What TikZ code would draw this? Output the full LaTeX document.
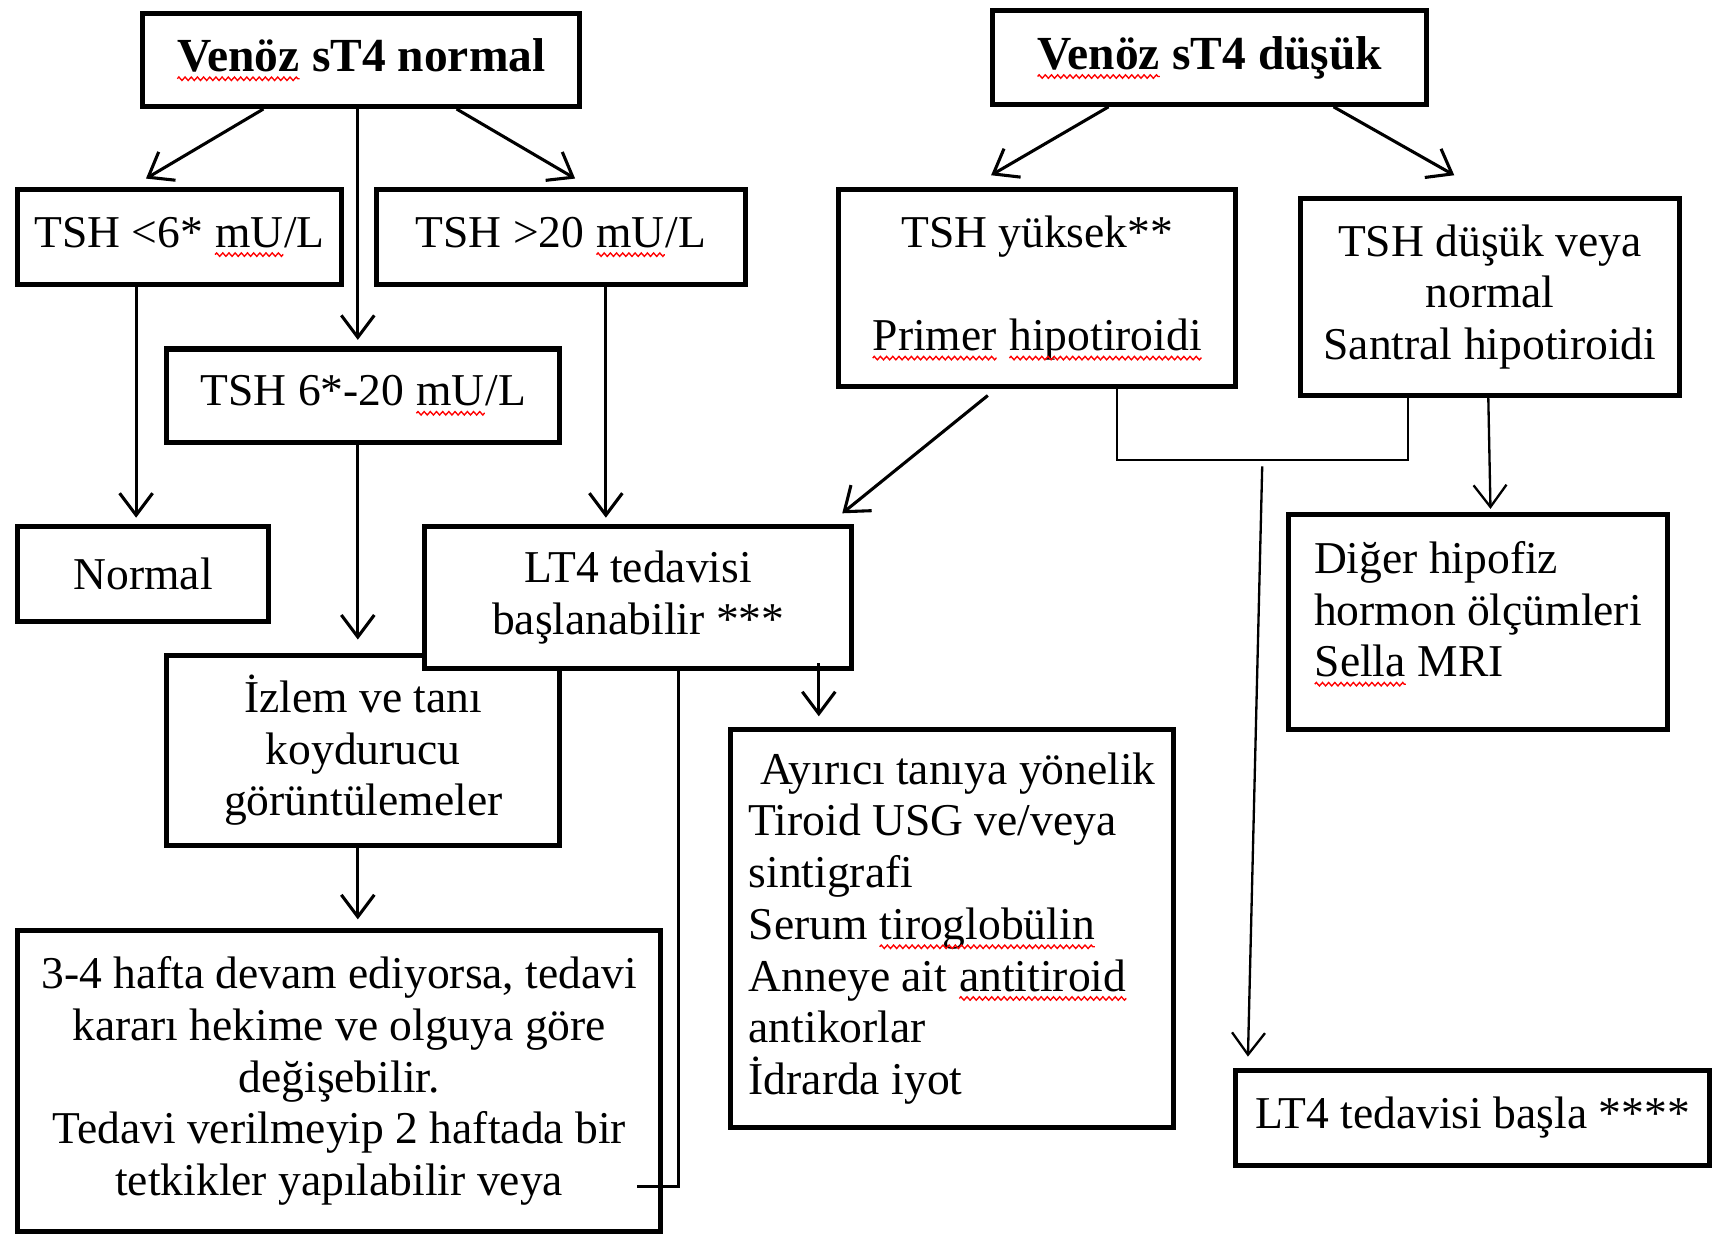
\documentclass[tikz,border=0pt]{standalone}
\usepackage{fontspec}
\setmainfont{Liberation Serif}
\usetikzlibrary{arrows.meta,calc,decorations.pathmorphing}
\newcommand\sqw[1]{\tikz[baseline=(w.base)]{\node[draw=none,fill=none,inner sep=0pt,outer sep=0pt,minimum width=0pt,minimum height=0pt,text width={},align=none,anchor=base](w){#1};\draw[red,line width=0.35pt,decorate,decoration={zigzag,amplitude=0.45pt,segment length=1.6pt}]([yshift=-1.9pt]w.base west)--([yshift=-1.9pt]w.base east);}}
\begin{document}
\begin{tikzpicture}[x=0.01cm,y=-0.01cm,
  box/.style={draw,line width=1.3pt,fill=white,inner sep=0pt,align=center,font=\fontsize{11.8}{13.4}\selectfont},
  ttl/.style={box,font=\fontsize{12.3}{15}\selectfont\bfseries},
  lbox/.style={box,align=left},
  conn/.style={line width=0.8pt},
  arr/.style={conn,-{Straight Barb[length=0.2cm,width=0.3cm]}},
  thinln/.style={line width=0.6pt}]
\useasboundingbox (0,0) rectangle (1568,1124);

\node[ttl, minimum width=3.98cm, minimum height=0.85cm] (A) at (329,54.5) {\sqw{Venöz} sT4 normal};
\node[ttl, minimum width=3.96cm, minimum height=0.85cm] (B) at (1102,52.5) {\sqw{Venöz} sT4 düşük};
\node[box, minimum width=2.95cm, minimum height=0.86cm] (C) at (163.5,216) {TSH <6* \sqw{mU}/L};
\node[box, minimum width=3.36cm, minimum height=0.86cm] (D) at (511,216) {TSH >20 \sqw{mU}/L};
\node[box, minimum width=3.58cm, minimum height=0.85cm] (E) at (331,360.5) {TSH 6*-20 \sqw{mU}/L};
\node[box, minimum width=3.62cm, minimum height=1.79cm] (F) at (945,262.5) {TSH yüksek**\\[13.4pt]\sqw{Primer} \sqw{hipotiroidi}};
\node[box, minimum width=3.45cm, minimum height=1.79cm] (G) at (1357.5,270.5) {TSH düşük veya\\normal\\Santral hipotiroidi};
\node[box, minimum width=2.29cm, minimum height=0.86cm] (H) at (130.5,523) {Normal};
\node[box, minimum width=3.58cm, minimum height=1.73cm] (J) at (331,683.5) {İzlem ve tanı\\koydurucu\\görüntülemeler};
\node[box, minimum width=3.89cm, minimum height=1.29cm] (I) at (581.5,544.5) {LT4 tedavisi\\başlanabilir ***};
\node[box, minimum width=5.86cm, minimum height=2.74cm] (K) at (309,985) {3-4 hafta devam ediyorsa, tedavi\\kararı hekime ve olguya göre\\değişebilir.\\Tedavi verilmeyip 2 haftada bir\\tetkikler yapılabilir veya};
\node[lbox, minimum width=4.03cm, minimum height=3.62cm] (L) at (867.5,846) {\ Ayırıcı tanıya yönelik\\Tiroid USG ve/veya\\sintigrafi\\Serum \sqw{tiroglobülin}\\Anneye ait \sqw{antitiroid}\\antikorlar\\İdrarda iyot};
\node[lbox, minimum width=3.45cm, minimum height=1.96cm] (M) at (1346.5,567) {Diğer hipofiz\\hormon ölçümleri\\\sqw{Sella} MRI\\[-0.23cm]\mbox{}};
\node[box, minimum width=4.31cm, minimum height=0.87cm] (N) at (1341.5,1018.5) {LT4 tedavisi başla ****};

% left tree
\draw[arr] (A.south -| 240,0) -- ($(C.north -| 133,0)+(0,-8)$);
\draw[arr] (A.south -| 326,0) -- ($(E.north -| 326,0)+(0,-6)$);
\draw[arr] (A.south -| 416,0) -- ($(D.north -| 524,0)+(0,-8)$);
\draw[arr] (C.south -| 124,0) -- ($(H.north -| 124,0)+(0,-6)$);
\draw[arr] (D.south -| 552,0) -- ($(I.north -| 552,0)+(0,-6)$);
\draw[arr] (E.south -| 326,0) -- ($(J.north -| 326,0)+(0,-12)$);
\draw[arr] (J.south -| 326,0) -- ($(K.north -| 326,0)+(0,-8)$);
\draw[arr] ($(I.south -| 746,0)+(0,-7)$) -- ($(L.north -| 746,0)+(0,-10)$);
\draw[conn] (I.south -| 618,0) |- ($(K.east)+(-24,96)$);

% right tree
\draw[arr] (B.south -| 1010,0) -- ($(F.north -| 903,0)+(0,-11)$);
\draw[arr] (B.south -| 1215,0) -- ($(G.north -| 1325,0)+(0,-19)$);
\draw[arr] ($(F.south -| 900,0)+(0,6)$) -- ($(I.north east)+(-11,-10)$);
\coordinate (j) at (1150,419);
\draw[thinln] (F.south -| 1018,0) |- (j) -| (G.south -| 1283,0);
\draw[thinln,-{Straight Barb[length=0.2cm,width=0.3cm]}] ($(j)+(0,6)$) -- ($(N.north -| 1137,0)+(0,-10)$);
\draw[thinln,-{Straight Barb[length=0.2cm,width=0.3cm]}] (G.south -| 1356,0) -- ($(M.north -| 1358,0)+(0,-3)$);
\end{tikzpicture}
\end{document}
